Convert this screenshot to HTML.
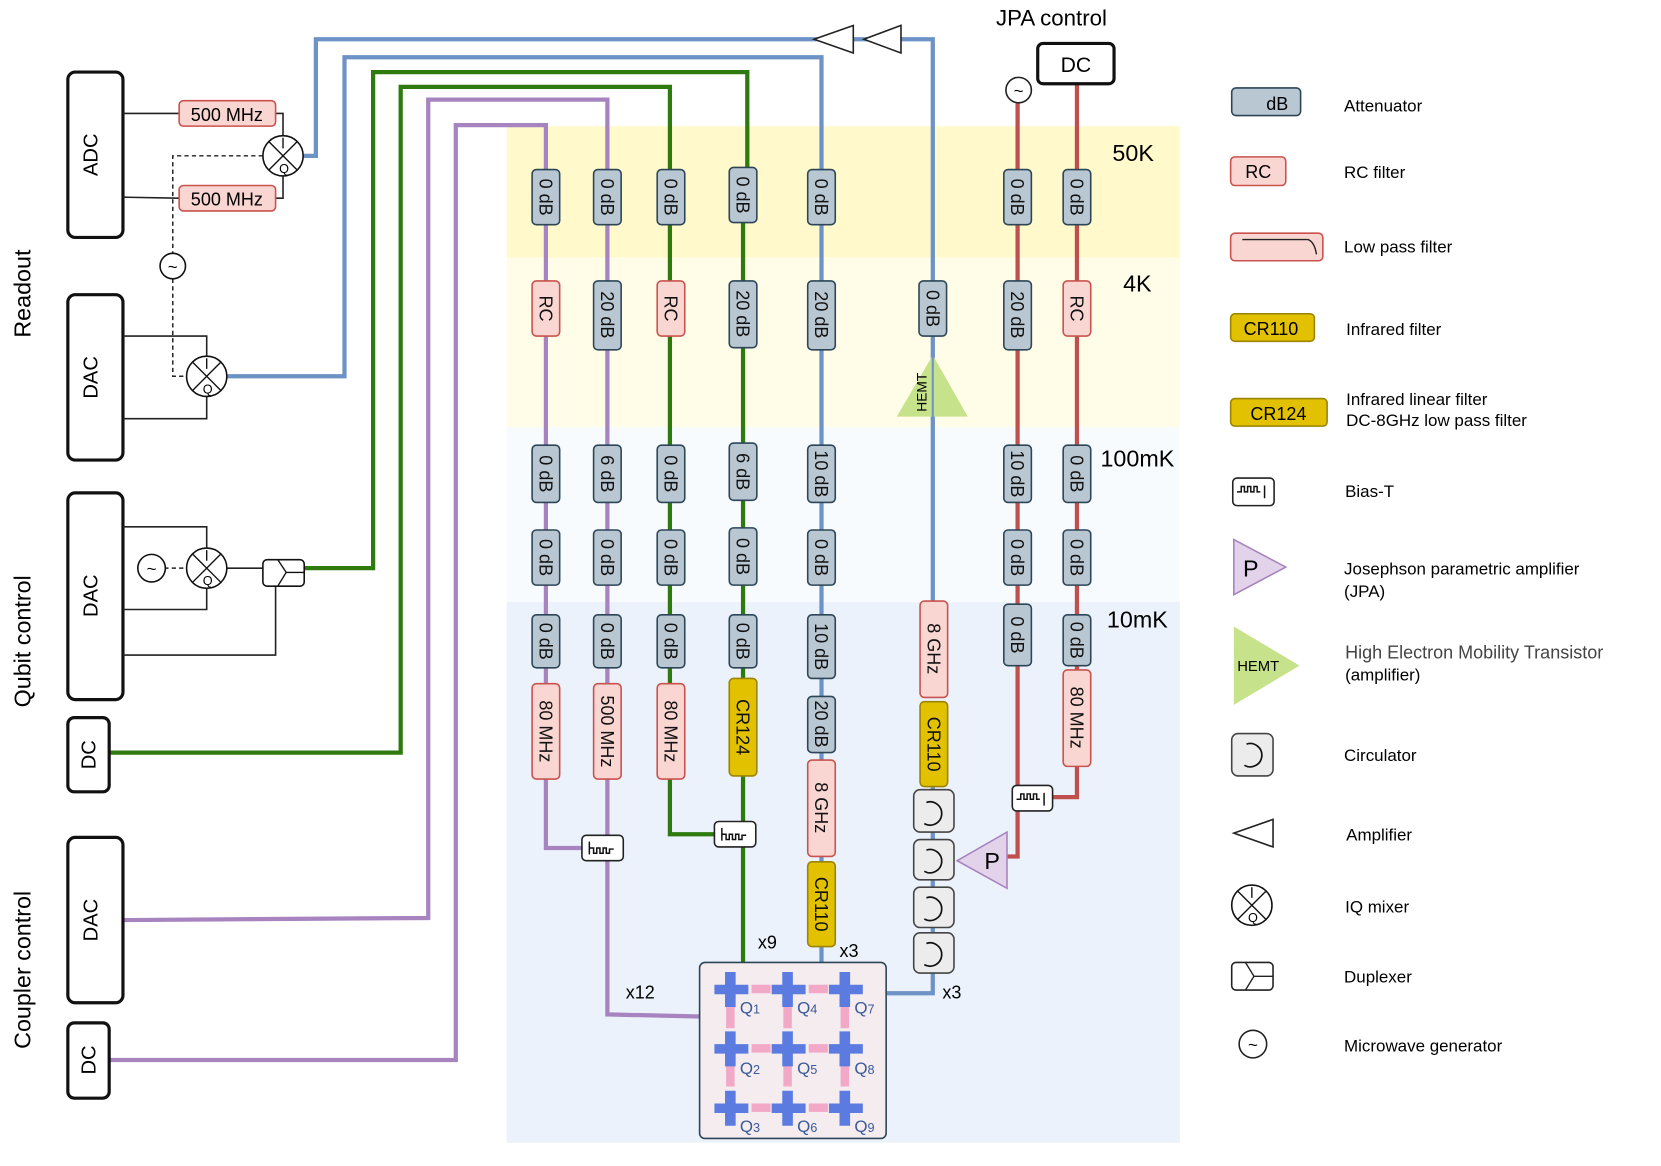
<!DOCTYPE html>
<html><head><meta charset="utf-8"><style>
html,body{margin:0;padding:0;background:#fff;}
svg{display:block;font-family:"Liberation Sans",sans-serif;}
</style></head><body>
<svg width="1661" height="1166" viewBox="0 0 1567 1100" preserveAspectRatio="none" xmlns="http://www.w3.org/2000/svg">
<defs>
<style>
.att{fill:#b9c7d2;stroke:#2c4658;stroke-width:1.5}
.rc{fill:#f9d6d2;stroke:#c9524c;stroke-width:1.5}
.ir{fill:#e2c200;stroke:#9a8400;stroke-width:1.5}
.t{font-size:17px;fill:#111}
.blk{fill:none;stroke:#222;stroke-width:1.5}
</style>
</defs>
<rect x="478" y="119" width="635" height="124" fill="#fff9cc"/>
<rect x="478" y="243" width="635" height="160" fill="#fffde8"/>
<rect x="478" y="403" width="635" height="165" fill="#f8fbfe"/>
<rect x="478" y="568" width="635" height="510" fill="#ecf2fb"/>
<text x="1069" y="152" font-size="22" text-anchor="middle">50K</text>
<text x="1073" y="275" font-size="22" text-anchor="middle">4K</text>
<text x="1073" y="440" font-size="22" text-anchor="middle">100mK</text>
<text x="1073" y="592" font-size="22" text-anchor="middle">10mK</text>

<g fill="none" stroke-width="4">
<polyline stroke="#6d93c6" points="267,147 298,147 298,37 880,37 880,570"/>
<polyline stroke="#6d93c6" points="214,355 325,355 325,54 775,54 775,908"/>
<polyline stroke="#6d93c6" points="880,740 880,937 836,937"/>
<polyline stroke="#2f7a0f" points="287,536 352,536 352,68 705,68 705,160 701,160 701,908"/>
<polyline stroke="#2f7a0f" points="103,710 378,710 378,82 632,82 632,787 675,787"/>
<polyline stroke="#a783bf" points="117,868 404,866 404,94 573,94 573,957 660,959"/>
<polyline stroke="#a783bf" points="103,1000 430,1000 430,118 515,118 515,800 550,800"/>
<polyline stroke="#c0504d" points="960,97 960,808 950,808"/>
<polyline stroke="#c0504d" points="1016,80 1016,752 990,752"/>
</g>

<polygon points="768,37 805,24 805,50" fill="#fff" stroke="#222" stroke-width="1.5"/>
<polygon points="815,37 850,24 850,50" fill="#fff" stroke="#222" stroke-width="1.5"/>

<text x="992" y="24" font-size="21" text-anchor="middle">JPA control</text>
<rect x="979" y="41" width="72" height="38" rx="5" fill="#fff" stroke="#111" stroke-width="3"/>
<text x="1015" y="68" font-size="20" text-anchor="middle">DC</text>
<circle cx="961" cy="85" r="12" fill="#fff" stroke="#222" stroke-width="1.5"/>
<text x="961" y="91" font-size="16" text-anchor="middle">~</text>

<g>
<rect class="att" x="502" y="160" width="26" height="52" rx="4"/><text class="t" transform="translate(509,186) rotate(90)" text-anchor="middle">0 dB</text>
<rect class="rc" x="502" y="265" width="26" height="52" rx="4"/><text class="t" transform="translate(509,291) rotate(90)" text-anchor="middle">RC</text>
<rect class="att" x="502" y="420" width="26" height="54" rx="4"/><text class="t" transform="translate(509,447) rotate(90)" text-anchor="middle">0 dB</text>
<rect class="att" x="502" y="500" width="26" height="52" rx="4"/><text class="t" transform="translate(509,526) rotate(90)" text-anchor="middle">0 dB</text>
<rect class="att" x="502" y="580" width="26" height="50" rx="4"/><text class="t" transform="translate(509,605) rotate(90)" text-anchor="middle">0 dB</text>
<rect class="rc" x="502" y="645" width="26" height="90" rx="4"/><text class="t" transform="translate(509,690) rotate(90)" text-anchor="middle">80 MHz</text>
<rect class="att" x="560" y="160" width="26" height="52" rx="4"/><text class="t" transform="translate(567,186) rotate(90)" text-anchor="middle">0 dB</text>
<rect class="att" x="560" y="265" width="26" height="65" rx="4"/><text class="t" transform="translate(567,297) rotate(90)" text-anchor="middle">20 dB</text>
<rect class="att" x="560" y="420" width="26" height="54" rx="4"/><text class="t" transform="translate(567,447) rotate(90)" text-anchor="middle">6 dB</text>
<rect class="att" x="560" y="500" width="26" height="52" rx="4"/><text class="t" transform="translate(567,526) rotate(90)" text-anchor="middle">0 dB</text>
<rect class="att" x="560" y="580" width="26" height="50" rx="4"/><text class="t" transform="translate(567,605) rotate(90)" text-anchor="middle">0 dB</text>
<rect class="rc" x="560" y="645" width="26" height="90" rx="4"/><text class="t" transform="translate(567,690) rotate(90)" text-anchor="middle">500 MHz</text>
<rect class="att" x="620" y="160" width="26" height="52" rx="4"/><text class="t" transform="translate(627,186) rotate(90)" text-anchor="middle">0 dB</text>
<rect class="rc" x="620" y="265" width="26" height="52" rx="4"/><text class="t" transform="translate(627,291) rotate(90)" text-anchor="middle">RC</text>
<rect class="att" x="620" y="420" width="26" height="54" rx="4"/><text class="t" transform="translate(627,447) rotate(90)" text-anchor="middle">0 dB</text>
<rect class="att" x="620" y="500" width="26" height="52" rx="4"/><text class="t" transform="translate(627,526) rotate(90)" text-anchor="middle">0 dB</text>
<rect class="att" x="620" y="580" width="26" height="50" rx="4"/><text class="t" transform="translate(627,605) rotate(90)" text-anchor="middle">0 dB</text>
<rect class="rc" x="620" y="645" width="26" height="90" rx="4"/><text class="t" transform="translate(627,690) rotate(90)" text-anchor="middle">80 MHz</text>
<rect class="att" x="688" y="158" width="26" height="52" rx="4"/><text class="t" transform="translate(695,184) rotate(90)" text-anchor="middle">0 dB</text>
<rect class="att" x="688" y="265" width="26" height="63" rx="4"/><text class="t" transform="translate(695,296) rotate(90)" text-anchor="middle">20 dB</text>
<rect class="att" x="688" y="418" width="26" height="54" rx="4"/><text class="t" transform="translate(695,445) rotate(90)" text-anchor="middle">6 dB</text>
<rect class="att" x="688" y="498" width="26" height="54" rx="4"/><text class="t" transform="translate(695,525) rotate(90)" text-anchor="middle">0 dB</text>
<rect class="att" x="688" y="580" width="26" height="50" rx="4"/><text class="t" transform="translate(695,605) rotate(90)" text-anchor="middle">0 dB</text>
<rect class="ir" x="688" y="640" width="26" height="92" rx="4"/><text class="t" transform="translate(695,686) rotate(90)" text-anchor="middle">CR124</text>
<rect class="att" x="762" y="160" width="26" height="52" rx="4"/><text class="t" transform="translate(769,186) rotate(90)" text-anchor="middle">0 dB</text>
<rect class="att" x="762" y="265" width="26" height="65" rx="4"/><text class="t" transform="translate(769,297) rotate(90)" text-anchor="middle">20 dB</text>
<rect class="att" x="762" y="420" width="26" height="54" rx="4"/><text class="t" transform="translate(769,447) rotate(90)" text-anchor="middle">10 dB</text>
<rect class="att" x="762" y="500" width="26" height="52" rx="4"/><text class="t" transform="translate(769,526) rotate(90)" text-anchor="middle">0 dB</text>
<rect class="att" x="762" y="580" width="26" height="60" rx="4"/><text class="t" transform="translate(769,610) rotate(90)" text-anchor="middle">10 dB</text>
<rect class="att" x="762" y="657" width="26" height="53" rx="4"/><text class="t" transform="translate(769,683) rotate(90)" text-anchor="middle">20 dB</text>
<rect class="rc" x="762" y="717" width="26" height="91" rx="4"/><text class="t" transform="translate(769,762) rotate(90)" text-anchor="middle">8 GHz</text>
<rect class="ir" x="762" y="813" width="26" height="80" rx="4"/><text class="t" transform="translate(769,853) rotate(90)" text-anchor="middle">CR110</text>
<rect class="att" x="867" y="265" width="26" height="52" rx="4"/><text class="t" transform="translate(874,291) rotate(90)" text-anchor="middle">0 dB</text>
<polygon points="880,335 913,393 846,393" fill="#c6e38c"/>
<line x1="880" y1="335" x2="880" y2="393" stroke="#6d93c6" stroke-width="2"/>
<text transform="translate(874,370) rotate(-90)" font-size="13" text-anchor="middle">HEMT</text>
<rect class="rc" x="868" y="567" width="26" height="91" rx="4"/><text class="t" transform="translate(875,612) rotate(90)" text-anchor="middle">8 GHz</text>
<rect class="ir" x="868" y="662" width="26" height="80" rx="4"/><text class="t" transform="translate(875,702) rotate(90)" text-anchor="middle">CR110</text>
<rect class="att" x="947" y="160" width="26" height="52" rx="4"/><text class="t" transform="translate(954,186) rotate(90)" text-anchor="middle">0 dB</text>
<rect class="att" x="947" y="265" width="26" height="65" rx="4"/><text class="t" transform="translate(954,297) rotate(90)" text-anchor="middle">20 dB</text>
<rect class="att" x="947" y="420" width="26" height="54" rx="4"/><text class="t" transform="translate(954,447) rotate(90)" text-anchor="middle">10 dB</text>
<rect class="att" x="947" y="500" width="26" height="52" rx="4"/><text class="t" transform="translate(954,526) rotate(90)" text-anchor="middle">0 dB</text>
<rect class="att" x="947" y="570" width="26" height="58" rx="4"/><text class="t" transform="translate(954,599) rotate(90)" text-anchor="middle">0 dB</text>
<rect class="att" x="1003" y="160" width="26" height="52" rx="4"/><text class="t" transform="translate(1010,186) rotate(90)" text-anchor="middle">0 dB</text>
<rect class="rc" x="1003" y="265" width="26" height="52" rx="4"/><text class="t" transform="translate(1010,291) rotate(90)" text-anchor="middle">RC</text>
<rect class="att" x="1003" y="420" width="26" height="54" rx="4"/><text class="t" transform="translate(1010,447) rotate(90)" text-anchor="middle">0 dB</text>
<rect class="att" x="1003" y="500" width="26" height="52" rx="4"/><text class="t" transform="translate(1010,526) rotate(90)" text-anchor="middle">0 dB</text>
<rect class="att" x="1003" y="580" width="26" height="48" rx="4"/><text class="t" transform="translate(1010,604) rotate(90)" text-anchor="middle">0 dB</text>
<rect class="rc" x="1003" y="632" width="26" height="91" rx="4"/><text class="t" transform="translate(1010,677) rotate(90)" text-anchor="middle">80 MHz</text>
</g>

<g fill="#ececec" stroke="#444" stroke-width="1.5">
<rect x="862" y="745" width="38" height="40" rx="6"/>
<rect x="862" y="792" width="38" height="38" rx="6"/>
<rect x="862" y="837" width="38" height="38" rx="6"/>
<rect x="862" y="880" width="38" height="38" rx="6"/>
</g>
<g fill="none" stroke="#111" stroke-width="1.6">
<path d="M874,757 A11,11 0 1 1 872,777"/>
<path d="M874,802 A11,11 0 1 1 872,822"/>
<path d="M874,847 A11,11 0 1 1 872,867"/>
<path d="M874,890 A11,11 0 1 1 872,910"/>
</g>
<polygon points="903,812 950,785 950,838" fill="#e3d3ea" stroke="#a783bf" stroke-width="1.5"/>
<text x="936" y="820" font-size="22" text-anchor="middle">P</text>

<g fill="#fff" stroke="#222" stroke-width="1.5">
<rect x="549" y="788" width="39" height="24" rx="4"/>
<rect x="674" y="775" width="39" height="24" rx="4"/>
<rect x="955" y="741" width="38" height="24" rx="4"/>
</g>
<g fill="none" stroke="#111" stroke-width="1.4">
<path d="M556,806 v-12 M556,800 h4 v5 h3 v-5 h3 v5 h3 v-5 h3 v5 h3 v-4 h4"/>
<path d="M681,793 v-12 M681,787 h4 v5 h3 v-5 h3 v5 h3 v-5 h3 v5 h3 v-4 h4"/>
<path d="M959,754 h4 v-5 h3 v5 h3 v-5 h3 v5 h3 v-5 h3 v5 h3 M985,748 v12"/>
</g>

<text x="724" y="895" font-size="17" text-anchor="middle">x9</text>
<text x="801" y="903" font-size="17" text-anchor="middle">x3</text>
<text x="898" y="942" font-size="17" text-anchor="middle">x3</text>
<text x="604" y="942" font-size="17" text-anchor="middle">x12</text>

<rect x="660" y="908" width="176" height="166" rx="5" fill="#f4ecee" stroke="#2c4658" stroke-width="1.5"/>
<g fill="#f2a9c8">
<rect x="709" y="929" width="18" height="8"/><rect x="763" y="929" width="18" height="8"/>
<rect x="709" y="985" width="18" height="8"/><rect x="763" y="985" width="18" height="8"/>
<rect x="709" y="1041" width="18" height="8"/><rect x="763" y="1041" width="18" height="8"/>
<rect x="685" y="950" width="8" height="20"/><rect x="739" y="950" width="8" height="20"/><rect x="793" y="950" width="8" height="20"/>
<rect x="685" y="1005" width="8" height="20"/><rect x="739" y="1005" width="8" height="20"/><rect x="793" y="1005" width="8" height="20"/>
</g>
<g fill="#5b7be0">
<path d="M684,917h10v12h12v9h-12v12h-10v-12h-10v-9h10z"/>
<path d="M738,917h10v12h12v9h-12v12h-10v-12h-10v-9h10z"/>
<path d="M792,917h10v12h12v9h-12v12h-10v-12h-10v-9h10z"/>
<path d="M684,973h10v12h12v9h-12v12h-10v-12h-10v-9h10z"/>
<path d="M738,973h10v12h12v9h-12v12h-10v-12h-10v-9h10z"/>
<path d="M792,973h10v12h12v9h-12v12h-10v-12h-10v-9h10z"/>
<path d="M684,1029h10v12h12v9h-12v12h-10v-12h-10v-9h10z"/>
<path d="M738,1029h10v12h12v9h-12v12h-10v-12h-10v-9h10z"/>
<path d="M792,1029h10v12h12v9h-12v12h-10v-12h-10v-9h10z"/>
</g>
<g font-size="16" fill="#3b5a9a">
<text x="698" y="956">Q<tspan font-size="12">1</tspan></text><text x="752" y="956">Q<tspan font-size="12">4</tspan></text><text x="806" y="956">Q<tspan font-size="12">7</tspan></text>
<text x="698" y="1013">Q<tspan font-size="12">2</tspan></text><text x="752" y="1013">Q<tspan font-size="12">5</tspan></text><text x="806" y="1013">Q<tspan font-size="12">8</tspan></text>
<text x="698" y="1068">Q<tspan font-size="12">3</tspan></text><text x="752" y="1068">Q<tspan font-size="12">6</tspan></text><text x="806" y="1068">Q<tspan font-size="12">9</tspan></text>
</g>

<g fill="#fff" stroke="#111" stroke-width="3">
<rect x="64" y="68" width="52" height="156" rx="7"/>
<rect x="64" y="278" width="52" height="156" rx="7"/>
<rect x="64" y="465" width="52" height="195" rx="7"/>
<rect x="64" y="677" width="39" height="70" rx="6"/>
<rect x="64" y="790" width="52" height="156" rx="7"/>
<rect x="64" y="965" width="39" height="71" rx="6"/>
</g>
<g font-size="19" text-anchor="middle">
<text transform="translate(92,146) rotate(-90)">ADC</text>
<text transform="translate(92,356) rotate(-90)">DAC</text>
<text transform="translate(92,562) rotate(-90)">DAC</text>
<text transform="translate(90,712) rotate(-90)">DC</text>
<text transform="translate(92,868) rotate(-90)">DAC</text>
<text transform="translate(90,1000) rotate(-90)">DC</text>
</g>
<g font-size="22" text-anchor="middle">
<text transform="translate(29,277) rotate(-90)">Readout</text>
<text transform="translate(29,605) rotate(-90)">Qubit control</text>
<text transform="translate(29,915) rotate(-90)">Coupler control</text>
</g>

<g class="blk">
<polyline points="116,107 169,107"/><polyline points="116,186 169,187"/>
<polyline points="260,107 267,107 267,128"/><polyline points="260,187 267,187 267,166"/>
<polyline points="116,317 195,317 195,336"/><polyline points="116,395 195,395 195,374"/>
<polyline points="116,497 195,497 195,517"/><polyline points="116,575 195,575 195,555"/>
<polyline points="214,536 248,536"/><polyline points="116,618 260,618 260,553"/>
</g>
<g fill="none" stroke="#222" stroke-width="1.4" stroke-dasharray="4,3">
<polyline points="248,147 163,147 163,239"/><polyline points="163,263 163,355 176,355"/>
<line x1="155" y1="536" x2="176" y2="536"/>
</g>
<rect class="rc" x="169" y="95" width="91" height="24" rx="4"/><text x="214" y="114" font-size="17" text-anchor="middle">500 MHz</text>
<rect class="rc" x="169" y="175" width="91" height="24" rx="4"/><text x="214" y="194" font-size="17" text-anchor="middle">500 MHz</text>
<g fill="#fff" stroke="#111" stroke-width="1.5">
<circle cx="267" cy="147" r="19"/><circle cx="195" cy="355" r="19"/><circle cx="195" cy="536" r="19"/>
<circle cx="163" cy="251" r="12"/><circle cx="143" cy="536" r="13"/>
<rect x="248" y="528" width="39" height="25" rx="4"/>
</g>
<g stroke="#111" stroke-width="1.3" fill="none">
<path d="M254,134 L280,160 M280,134 L254,160 M267,130 v10"/>
<path d="M182,342 L208,368 M208,342 L182,368 M195,338 v10"/>
<path d="M182,523 L208,549 M208,523 L182,549 M195,519 v10"/>
<path d="M262,528 l8,12 l-8,13 M270,540 h17"/>
</g>
<g font-size="12" text-anchor="middle"><text x="268" y="163">Q</text><text x="196" y="371">Q</text><text x="196" y="552">Q</text></g>
<text x="163" y="257" font-size="16" text-anchor="middle">~</text>
<text x="143" y="542" font-size="16" text-anchor="middle">~</text>

<rect class="att" x="1162" y="83" width="65" height="26" rx="4"/><text x="1205" y="104" font-size="17" text-anchor="middle">dB</text>
<text x="1268" y="105" font-size="16">Attenuator</text>
<rect class="rc" x="1161" y="148" width="52" height="27" rx="4"/><text x="1187" y="168" font-size="17" text-anchor="middle">RC</text>
<text x="1268" y="168" font-size="16">RC filter</text>
<rect class="rc" x="1161" y="220" width="87" height="26" rx="4"/><path d="M1172,226 h62 q6,2 8,14" fill="none" stroke="#222" stroke-width="1.3"/>
<text x="1268" y="238" font-size="16">Low pass filter</text>
<rect class="ir" x="1161" y="296" width="79" height="26" rx="4"/><text x="1199" y="316" font-size="17" text-anchor="middle">CR110</text>
<text x="1270" y="316" font-size="16">Infrared filter</text>
<rect class="ir" x="1161" y="376" width="91" height="26" rx="4"/><text x="1206" y="396" font-size="17" text-anchor="middle">CR124</text>
<text x="1270" y="382" font-size="16">Infrared linear filter</text>
<text x="1270" y="402" font-size="16">DC-8GHz low pass filter</text>
<rect x="1163" y="451" width="39" height="26" rx="4" fill="#fff" stroke="#222" stroke-width="1.5"/>
<path d="M1167,464 h4 v-5 h3 v5 h3 v-5 h3 v5 h3 v-5 h3 v5 h3 M1193,458 v12" fill="none" stroke="#111" stroke-width="1.4"/>
<text x="1269" y="469" font-size="16">Bias-T</text>
<polygon points="1164,509 1164,561 1213,535" fill="#e3d3ea" stroke="#a783bf" stroke-width="1.5"/>
<text x="1180" y="544" font-size="22" text-anchor="middle">P</text>
<text x="1268" y="542" font-size="16">Josephson parametric amplifier</text>
<text x="1268" y="563" font-size="16">(JPA)</text>
<polygon points="1164,591 1164,665 1226,628" fill="#c6e38c"/>
<text x="1187" y="633" font-size="14" text-anchor="middle">HEMT</text>
<text x="1269" y="621" font-size="17" fill="#444">High Electron Mobility Transistor</text>
<text x="1269" y="642" font-size="16">(amplifier)</text>
<rect x="1162" y="692" width="39" height="40" rx="6" fill="#ececec" stroke="#444" stroke-width="1.5"/>
<path d="M1176,702 A11,11 0 1 1 1174,722" fill="none" stroke="#111" stroke-width="1.6"/>
<text x="1268" y="718" font-size="16">Circulator</text>
<polygon points="1164,786 1201,773 1201,799" fill="#fff" stroke="#222" stroke-width="1.5"/>
<text x="1270" y="793" font-size="16">Amplifier</text>
<circle cx="1181" cy="854" r="19" fill="#fff" stroke="#111" stroke-width="1.5"/>
<path d="M1168,841 L1194,867 M1194,841 L1168,867 M1181,837 v10" stroke="#111" stroke-width="1.3"/>
<text x="1182" y="870" font-size="12" text-anchor="middle">Q</text>
<text x="1269" y="861" font-size="16">IQ mixer</text>
<rect x="1162" y="908" width="39" height="26" rx="4" fill="#fff" stroke="#222" stroke-width="1.5"/>
<path d="M1175,908 l8,13 l-8,13 M1183,921 h18" fill="none" stroke="#222" stroke-width="1.3"/>
<text x="1268" y="927" font-size="16">Duplexer</text>
<circle cx="1182" cy="985" r="13" fill="#fff" stroke="#222" stroke-width="1.5"/>
<text x="1182" y="991" font-size="16" text-anchor="middle">~</text>
<text x="1268" y="992" font-size="16">Microwave generator</text>
</svg>
</body></html>
